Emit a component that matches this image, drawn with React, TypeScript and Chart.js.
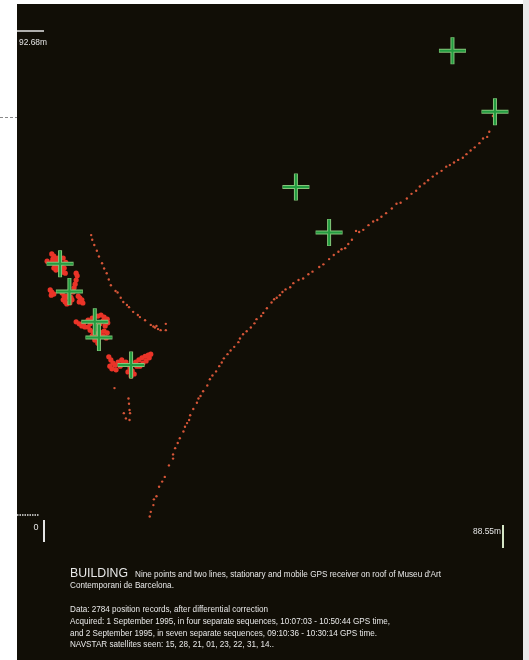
import React, { useEffect, useRef } from "react";
import { Chart, registerables } from "chart.js";

Chart.register(...registerables);

// Extents of the survey frame (metres)
const X_EXTENT = 88.55;
const Y_EXTENT = 92.68;
const X_LABEL = "88.55m";
const Y_LABEL = "92.68m";
const ORIGIN_LABEL = "0";

// Nine stationary reference points (metres east, metres north)
const stationaryPoints: [number, number][] = [
  [78.8, 88.9], [87.0, 77.2], [48.6, 62.8], [55.0, 54.1],
  [3.1, 48.1], [4.9, 42.8], [9.8, 37.0], [10.6, 34.0], [16.8, 28.7],
];

// Stationary record clusters
const clusterA: [number, number][] = [
  [1.5, 50.0], [1.9, 49.6], [2.1, 49.2], [1.7, 49.0], [2.3, 48.6], [1.5, 48.4], [2.1, 47.9],
  [2.5, 47.7], [1.9, 47.3], [2.3, 46.9], [2.9, 47.1], [3.5, 46.9], [3.7, 46.5], [4.1, 46.3],
  [3.9, 47.3], [3.3, 47.7], [3.1, 48.4], [2.7, 49.2], [3.7, 49.2], [4.2, 48.4], [0.6, 48.6],
];
const clusterB: [number, number][] = [
  [1.2, 43.1], [1.5, 42.7], [1.9, 42.3], [1.4, 42.1], [3.5, 42.5], [3.9, 41.9], [4.2, 41.6],
  [3.7, 41.2], [4.1, 40.8], [4.4, 40.4], [5.0, 40.6], [5.4, 41.2], [4.6, 41.9], [5.2, 41.7],
  [6.6, 41.9], [6.9, 41.6], [7.3, 41.2], [7.5, 40.6], [6.8, 40.8], [5.8, 43.5], [6.0, 44.2],
  [6.2, 45.0], [6.4, 45.8], [6.2, 46.3], [5.6, 42.7],
];
const clusterC: [number, number][] = [
  [6.2, 37.0], [6.8, 36.6], [7.3, 36.2], [7.9, 36.0], [7.7, 36.8], [8.5, 37.3], [8.9, 36.6],
  [9.3, 37.7], [10.4, 38.1], [11.0, 38.3], [11.6, 37.9], [12.2, 37.5], [11.4, 37.2], [12.3, 36.8],
  [10.8, 36.6], [11.8, 36.2], [8.9, 35.4], [9.5, 35.0], [10.0, 34.7], [9.3, 34.3], [10.8, 35.0],
  [11.6, 35.2], [12.2, 34.9], [11.4, 34.3], [9.8, 33.5], [10.4, 32.9], [12.0, 33.9], [8.5, 36.0],
];
const clusterD: [number, number][] = [
  [12.5, 30.3], [12.9, 29.7], [13.3, 29.1], [12.7, 28.5], [13.1, 28.0], [13.7, 28.7], [14.3, 29.3],
  [14.7, 28.5], [13.9, 27.8], [15.2, 28.9], [15.8, 29.3], [17.7, 29.3], [18.3, 29.7], [18.9, 30.1],
  [19.5, 30.4], [20.1, 30.6], [20.6, 30.8], [20.3, 30.1], [19.7, 29.5], [19.1, 29.1], [18.5, 28.5],
  [17.9, 28.5], [16.6, 28.2], [17.0, 27.6], [17.4, 27.0], [16.8, 26.6], [16.2, 27.4], [15.0, 29.7],
];

// Mobile line 1 (long curve)
const mobileLine1: [number, number][] = [
  [20.4, -0.3], [20.6, 0.6], [21.1, 1.9], [21.2, 3.0], [21.7, 3.6], [22.2, 5.4], [22.8, 6.4],
  [23.3, 7.3], [24.1, 9.5], [24.9, 10.8], [24.9, 11.6], [25.3, 12.8], [25.8, 13.8], [26.2, 14.7],
  [26.9, 16.0], [27.2, 16.9], [27.6, 17.6], [28.0, 18.2], [28.2, 19.1], [28.8, 20.3], [29.5, 21.5],
  [29.8, 22.3], [30.2, 22.8], [30.7, 23.7], [31.5, 24.8], [32.0, 26.0], [32.5, 26.7], [33.2, 27.5],
  [33.8, 28.5], [34.3, 29.2], [34.7, 30.0], [35.4, 30.8], [36.0, 31.5], [36.7, 32.2], [37.5, 33.1],
  [37.8, 33.8], [38.4, 34.6], [39.1, 35.2], [39.9, 35.9], [40.6, 36.7], [41.0, 37.5], [41.9, 38.1],
  [42.3, 38.7], [43.0, 39.6], [43.9, 40.7], [44.4, 41.3], [44.9, 41.6], [45.5, 42.1], [46.0, 42.7],
  [46.6, 43.2], [47.5, 43.6], [48.1, 44.4], [49.1, 45.0], [50.0, 45.3], [51.0, 46.1], [51.8, 46.6],
  [53.1, 47.5], [53.9, 48.0], [55.0, 49.0], [55.9, 49.8], [56.8, 50.4], [57.4, 50.9], [58.1, 51.1],
  [58.7, 51.9], [59.4, 52.7], [60.2, 54.4], [60.8, 54.2], [61.6, 54.6], [62.6, 55.5], [63.5, 56.2],
  [64.3, 56.5], [65.1, 57.1], [66.0, 57.8], [67.1, 58.7], [68.0, 59.6], [68.8, 59.8], [70.0, 60.6],
  [70.9, 61.5], [71.8, 62.1], [72.5, 62.9], [73.4, 63.5], [74.1, 64.1], [75.0, 64.8], [75.8, 65.4],
  [76.7, 65.9], [77.6, 66.7], [78.3, 67.0], [79.1, 67.5], [79.9, 68.0], [80.8, 68.4], [81.5, 69.1],
  [82.3, 69.8], [83.1, 70.4], [84.0, 71.2], [84.7, 72.1], [85.5, 72.4], [85.9, 73.4], [86.6, 76.4],
];

// Mobile line 2 (short line, left)
const mobileLine2: [number, number][] = [
  [9.1, 53.6], [9.3, 52.7], [9.7, 51.7], [10.2, 50.6], [10.6, 49.5], [11.2, 48.2], [11.6, 47.2],
  [12.1, 46.3], [12.5, 45.1], [12.9, 44.0], [13.8, 42.9], [14.2, 42.6], [14.8, 41.6], [15.3, 40.8],
  [16.0, 40.2], [16.4, 39.8], [17.2, 38.9], [18.1, 38.3], [18.5, 37.9], [19.5, 37.3], [20.6, 36.4],
  [21.4, 35.9], [22.0, 35.6], [22.5, 35.4], [23.5, 35.4], [23.5, 36.6], [21.1, 36.1], [21.7, 36.2],
];

// Short trail below the last point
const trail: [number, number][] = [
  [13.6, 24.3], [16.3, 22.3], [16.4, 21.3], [16.5, 20.1], [16.6, 19.5], [15.4, 19.5], [15.8, 18.5],
  [16.5, 18.2],
];

const TITLE = "BUILDING";
const SUBTITLE_1 = "Nine points and two lines, stationary and mobile GPS receiver on roof of Museu d'Art";
const SUBTITLE_2 = "Contemporani de Barcelona.";
const NOTES = [
  "Data: 2784 position records, after differential correction",
  "Acquired: 1 September 1995, in four separate sequences, 10:07:03 - 10:50:44 GPS time,",
  "and 2 September 1995, in seven separate sequences, 09:10:36 - 10:30:14 GPS time.",
  "NAVSTAR satellites seen: 15, 28, 21, 01, 23, 22, 31, 14..",
];
const NOTE_WIDTHS = [198, 320, 307, 204];

const toXY = (a: [number, number][]) => a.map(([x, y]) => ({ x, y }));

const SMALL_FONT = '9px "Liberation Sans Narrow", "Liberation Sans", Arial, sans-serif';

const decor = {
  id: "decor",
  beforeDraw(chart: any) {
    const { ctx, width, height } = chart;
    ctx.save();
    ctx.fillStyle = "#ffffff";
    ctx.fillRect(0, 0, width, height);
    ctx.fillStyle = "#e9e9e9";
    ctx.fillRect(523, 0, width - 523, height);
    ctx.fillStyle = "#110e06";
    ctx.fillRect(17, 4, 506, height - 4);
    // small dashed tick in the left margin
    ctx.strokeStyle = "#8a8a8a";
    ctx.lineWidth = 1;
    ctx.setLineDash([3, 2]);
    ctx.beginPath();
    ctx.moveTo(0, 117.5);
    ctx.lineTo(17, 117.5);
    ctx.stroke();
    ctx.setLineDash([]);
    ctx.restore();
  },
  afterDraw(chart: any) {
    const { ctx } = chart;
    const xs = chart.scales.x;
    const ys = chart.scales.y;
    const x0 = xs.getPixelForValue(0);
    const x1 = xs.getPixelForValue(X_EXTENT);
    const y0 = ys.getPixelForValue(0);
    const y1 = ys.getPixelForValue(Y_EXTENT);
    ctx.save();
    ctx.strokeStyle = "#e4e4e4";
    ctx.fillStyle = "#e4e4e4";
    // top-left extent mark
    ctx.lineWidth = 1.5;
    ctx.beginPath();
    ctx.moveTo(17, y1);
    ctx.lineTo(x0, y1);
    ctx.stroke();
    ctx.font = SMALL_FONT;
    ctx.textBaseline = "alphabetic";
    ctx.textAlign = "left";
    ctx.fillText(Y_LABEL, 19, y1 + 13.5, 28);
    // bottom-left origin marks
    ctx.setLineDash([1.5, 1]);
    ctx.beginPath();
    ctx.moveTo(17, y0);
    ctx.lineTo(x0 - 5, y0);
    ctx.stroke();
    ctx.setLineDash([]);
    ctx.lineWidth = 2;
    ctx.beginPath();
    ctx.moveTo(x0, y0 + 5);
    ctx.lineTo(x0, y0 + 27);
    ctx.stroke();
    ctx.textAlign = "center";
    ctx.fillText(ORIGIN_LABEL, x0 - 8, y0 + 14.5);
    // bottom-right extent mark
    ctx.strokeStyle = "#d6e6c6";
    ctx.beginPath();
    ctx.moveTo(x1, y0 + 10);
    ctx.lineTo(x1, y0 + 33);
    ctx.stroke();
    ctx.textAlign = "right";
    ctx.fillText(X_LABEL, x1 - 2, y0 + 19, 28);
    // caption
    ctx.fillStyle = "#e8e8e8";
    ctx.textAlign = "left";
    ctx.font = '13px "Liberation Sans", Arial, sans-serif';
    ctx.fillText(TITLE, 70, 576.5, 58);
    ctx.font = SMALL_FONT;
    const ratio = Math.min(1, 306 / ctx.measureText(SUBTITLE_1).width);
    ctx.fillText(SUBTITLE_1, 135, 577, 306);
    ctx.fillText(SUBTITLE_2, 70, 588, ctx.measureText(SUBTITLE_2).width * ratio);
    NOTES.forEach((t, i) => {
      ctx.fillText(t, 70, 612 + i * 11.8, NOTE_WIDTHS[i]);
    });
    ctx.restore();
  },
};

export default function App() {
  const ref = useRef<HTMLCanvasElement | null>(null);
  useEffect(() => {
    if (!ref.current) return;
    const clusterColor = "rgb(234,52,40)";
    const lineColor = "rgb(214,86,56)";
    const chart = new Chart(ref.current, {
      type: "scatter",
      data: {
        datasets: [
          {
            label: "stationary points",
            data: toXY(stationaryPoints),
            pointStyle: "cross",
            pointRadius: 13,
            borderColor: "rgb(34,156,64)",
            backgroundColor: "rgb(34,156,64)",
            pointBorderWidth: 2,
            clip: false,
          } as any,
          {
            label: "stationary points outline",
            data: toXY(stationaryPoints),
            pointStyle: "cross",
            pointRadius: 13.5,
            borderColor: "rgb(132,196,120)",
            backgroundColor: "rgb(132,196,120)",
            pointBorderWidth: 4,
            clip: false,
          } as any,
          {
            label: "cluster A",
            data: toXY(clusterA),
            pointRadius: 2.6,
            pointBorderWidth: 0,
            backgroundColor: clusterColor,
            clip: false,
          } as any,
          {
            label: "cluster B",
            data: toXY(clusterB),
            pointRadius: 2.6,
            pointBorderWidth: 0,
            backgroundColor: clusterColor,
            clip: false,
          } as any,
          {
            label: "cluster C",
            data: toXY(clusterC),
            pointRadius: 2.6,
            pointBorderWidth: 0,
            backgroundColor: clusterColor,
            clip: false,
          } as any,
          {
            label: "cluster D",
            data: toXY(clusterD),
            pointRadius: 2.6,
            pointBorderWidth: 0,
            backgroundColor: clusterColor,
            clip: false,
          } as any,
          {
            label: "line 1",
            data: toXY(mobileLine1),
            pointRadius: 1.2,
            pointBorderWidth: 0,
            backgroundColor: lineColor,
            clip: false,
          } as any,
          {
            label: "line 2",
            data: toXY(mobileLine2),
            pointRadius: 1.2,
            pointBorderWidth: 0,
            backgroundColor: lineColor,
            clip: false,
          } as any,
          {
            label: "trail",
            data: toXY(trail),
            pointRadius: 1.2,
            pointBorderWidth: 0,
            backgroundColor: lineColor,
            clip: false,
          } as any,
        ],
      },
      options: {
        responsive: false,
        animation: false,
        events: [],
        layout: { padding: { left: 44, right: 26, top: 31, bottom: 145 } },
        scales: {
          x: { type: "linear", min: 0, max: X_EXTENT, display: false },
          y: { type: "linear", min: 0, max: Y_EXTENT, display: false },
        },
        plugins: { legend: { display: false }, tooltip: { enabled: false } },
      },
      plugins: [decor],
    });
    return () => chart.destroy();
  }, []);
  return (
    <div style={{ position: "absolute", left: 0, top: 0, width: 529, height: 660 }}>
      <canvas ref={ref} width={529} height={660} style={{ display: "block" }} />
    </div>
  );
}
